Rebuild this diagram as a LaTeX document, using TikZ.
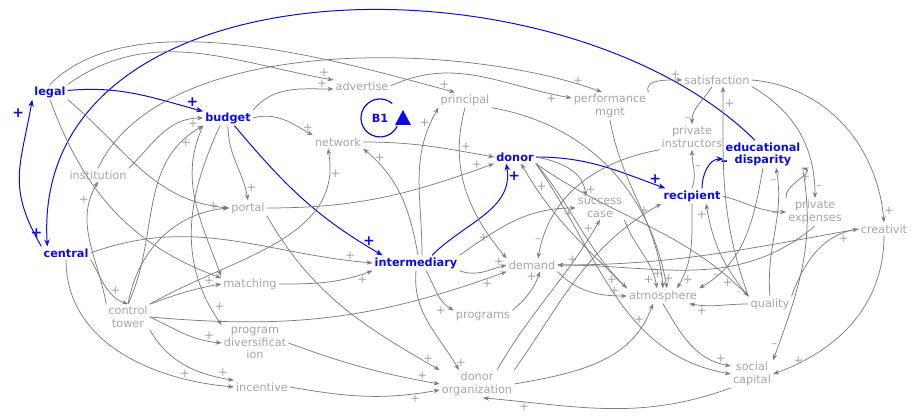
\documentclass[tikz,border=0pt]{standalone}
\usepackage{fontspec}
\setmainfont{DejaVu Sans}
\usetikzlibrary{arrows.meta}
\definecolor{lngray}{RGB}{125,125,125}
\definecolor{txgray}{RGB}{165,165,165}
\definecolor{cldblue}{RGB}{10,10,235}
\tikzset{
  var/.style={text=txgray, font=\fontsize{11.3}{12.5}\selectfont, align=center, inner sep=2pt},
  key/.style={text=cldblue, font=\bfseries\fontsize{11.3}{12}\selectfont, align=center, inner sep=2pt},
  lnk/.style={draw=lngray, line width=0.75pt, -{Stealth[length=6pt,width=4.5pt]}},
  blk/.style={draw=cldblue, line width=1pt, -{Stealth[length=7pt,width=5.5pt]}},
  pl/.style={text=txgray, font=\fontsize{12}{12}\selectfont, inner sep=1pt},
  bpl/.style={text=cldblue, font=\bfseries\fontsize{14}{14}\selectfont, inner sep=1pt},
}
\begin{document}
\begin{tikzpicture}[x=1pt,y=1pt]
    \useasboundingbox (0,0) rectangle (914,418);
    % variables
    \node[key] (legal) at (50,326) {legal};
    \node[key] (budget) at (228,300) {budget};
    \node[var] (advertise) at (362,332) {advertise};
    \node[var] (principal) at (465,318) {principal};
    \node[var] (perf) at (610,312) {performance\\mgnt};
    \node[var] (satisf) at (717,338) {satisfaction};
    \node[var] (privinst) at (692,281) {private\\instructors};
    \node[key] (edudisp) at (763,264) {educational\\disparity};
    \node[var] (network) at (338,276) {network};
    \node[key] (donor) at (515,261) {donor};
    \node[key] (recipient) at (692,222) {recipient};
    \node[var] (institution) at (98,243) {institution};
    \node[var] (portal) at (248,210) {portal};
    \node[var] (success) at (600,210) {success\\case};
    \node[var] (privexp) at (815,206) {private\\expenses};
    \node[var] (creativit) at (884,189) {creativit};
    \node[key] (central) at (66,165) {central};
    \node[key] (intermediary) at (416,155) {intermediary};
    \node[var] (demand) at (532,153) {demand};
    \node[var] (matching) at (250,134) {matching};
    \node[var] (atmosphere) at (663,122) {atmosphere};
    \node[var] (quality) at (770,114) {quality};
    \node[var] (ctower) at (128,101) {control\\tower};
    \node[var] (programs) at (483,101) {programs};
    \node[var] (progdiv) at (255,75) {program\\diversificat\\ion};
    \node[var] (incentive) at (262,31) {incentive};
    \node[var] (donorg) at (477,34) {donor\\organization};
    \node[var] (social) at (752,44) {social\\capital};
    % loop marker
    \node[key] (b1) at (380,300) {B1};
    \draw[cldblue, line width=1.2pt] (b1) ++(50:19) arc (50:335:19);
    \fill[cldblue] (b1) ++(15,-7) -- ++(16,0) -- ++(-8,15) -- cycle;
    % blue links
    \draw[blk] (legal) to[out=5,in=165] node[bpl,pos=.93,above]{+} (budget);
    \draw[blk] (central.north west) to[out=120,in=-100,looseness=1.2] node[bpl,pos=.93,left=4pt]{+} (legal.south west);
    \draw[blk] ([xshift=-8pt]edudisp.north) .. controls (560,470) and (30,462) .. node[bpl,pos=.985,left=3pt]{+} ([xshift=6pt]central.north west);
    \draw[blk] (budget) to[out=-50,in=150] node[bpl,pos=.93,above]{+} ([xshift=10pt]intermediary.north west);
    \draw[blk] ([xshift=16pt]intermediary.north) to[out=45,in=-80] node[bpl,pos=.9,right]{+} ([xshift=12pt]donor.south west);
    \draw[blk] (donor.east) to[out=0,in=160] node[bpl,pos=.93,above]{+} ([xshift=4pt]recipient.north west);
    \draw[blk] ([xshift=10pt]recipient.north) to[out=90,in=180] node[bpl,pos=.9,below right]{--} ([yshift=-5pt]edudisp.west);
    % top arcs
    \draw[lnk] (legal.north east) to[out=35,in=170] node[pl,pos=.97,above]{+} ([yshift=6pt]advertise.west);
    \draw[lnk] (budget.north east) to[out=50,in=180] node[pl,pos=.88,above]{+} ([yshift=-3pt]advertise.west);
    \draw[lnk] (legal.north) to[out=45,in=165,looseness=.75] node[pl,pos=.97,above]{+} ([xshift=-10pt]principal.north);
    \draw[lnk] (institution.north) to[out=65,in=160,looseness=.75] node[pl,pos=.96,above left]{+} ([xshift=-8pt]perf.north);
    \draw[lnk] (advertise.east) to[out=25,in=170] node[pl,pos=.9,below]{+} ([yshift=8pt]perf.west);
    \draw[lnk] (perf.north east) to[out=110,in=180] node[pl,pos=.85,above]{+} (satisf.west);
    % right side
    \draw[lnk] ([xshift=-5pt]satisf.south) to[out=-120,in=90] node[pl,pos=.9,left]{--} (privinst.north);
    \draw[lnk] (quality.north west) to[out=110,in=-90] node[pl,pos=.93,right]{+} ([xshift=6pt]satisf.south);
    \draw[lnk] (satisf.south east) to[out=-30,in=90] node[pl,pos=.93,right]{--} (privexp.north);
    \draw[lnk] (satisf.east) to[out=-5,in=95] node[pl,pos=.95,right]{+} (creativit.north);
    \draw[lnk] (recipient.north) to[out=70,in=-90] node[pl,pos=.55,right]{--} (privinst.south);
    \draw[lnk] (privinst.south west) to[out=190,in=80] node[pl,pos=.9,left]{--} ([xshift=6pt]demand.north);
    \draw[lnk] (privexp.north west) to[out=100,in=-20] node[pl,pos=.8,below]{+} (edudisp.south east);
    \draw[lnk] (recipient.east) to[out=-15,in=180] node[pl,pos=.85,below]{--} (privexp.west);
    \draw[lnk] (quality.north) to[out=95,in=-80] node[pl,pos=.9,left]{--} ([xshift=13pt]edudisp.south);
    \draw[lnk] (edudisp.south) to[out=-100,in=30] node[pl,pos=.9,above right]{--} (atmosphere.north east);
    \draw[lnk] (privexp.south) to[out=-140,in=0] node[pl,pos=.95,above]{+} (demand.east);
    \draw[lnk] (creativit.west) to[out=190,in=0] (demand.east);
    \draw[lnk] (quality.north east) to[out=70,in=190] node[pl,pos=.85,below]{+} (creativit.west);
    \draw[lnk] (creativit.south) to[out=-90,in=20] node[pl,pos=.9,above right]{+} (social.east);
    \draw[lnk] (edudisp.south east) to[out=-80,in=70] node[pl,pos=.93,left]{--} (social.north east);
    \draw[lnk] (atmosphere.south) to[out=-60,in=170] node[pl,pos=.9,above]{+} ([yshift=8pt]social.west);
    \draw[lnk] (quality.west) to[out=180,in=-10] node[pl,pos=.8,below]{+} ([xshift=-10pt]atmosphere.south east);
    \draw[lnk] (social.south west) to[out=-160,in=-5] node[pl,pos=.85,below]{+} ([xshift=6pt]donorg.south);
    \draw[lnk] (donor.south east) to[out=-55,in=170] (social.west);
    \draw[lnk] (donor.south east) to[out=-35,in=135] node[pl,pos=.93,left]{+} (quality.north west);
    % middle
    \draw[lnk] (network.east) to[out=0,in=170] node[pl,pos=.8,above]{+} (donor.west);
    \draw[lnk] (budget.east) to[out=15,in=150] node[pl,pos=.92,above]{+} (network.north west);
    \draw[lnk] (ctower.north east) to[out=30,in=-80] node[pl,pos=.9,right]{+} ([xshift=-10pt]network.south);
    \draw[lnk] ([xshift=2pt]intermediary.north) to[out=100,in=-40] node[pl,pos=.9,right]{+} (network.south east);
    \draw[lnk] ([xshift=6pt]intermediary.north) to[out=90,in=-120] node[pl,pos=.9,left]{+} (principal.south west);
    \draw[lnk] (principal.south) to[out=-105,in=130] node[pl,pos=.85,left]{+} (demand.north west);
    \draw[lnk] (principal.south east) to[out=-10,in=100] node[pl,pos=.95,left]{+} ([xshift=4pt]atmosphere.north);
    \draw[lnk] (perf.south) to[out=-80,in=95] node[pl,pos=.95,right]{+} (atmosphere.north);
    \draw[lnk] (donor.east) to[out=-10,in=95] node[pl,pos=.9,right]{+} ([xshift=10pt]success.north west);
    \draw[lnk] (donor.south east) to[out=-50,in=135] node[pl,pos=.93,left]{+} (atmosphere.north west);
    \draw[lnk] (atmosphere.north west) to[out=135,in=-60] node[pl,pos=.85,right]{+} ([xshift=6pt]donor.south);
    \draw[lnk] (intermediary.north east) to[out=35,in=180] node[pl,pos=.95,below]{+} (success.west);
    \draw[lnk] (intermediary.south east) to[out=-20,in=195] node[pl,pos=.85,above]{+} (demand.west);
    \draw[lnk] (portal.east) to[out=0,in=200] node[pl,pos=.93,above]{+} (donor.south west);
    \draw[lnk] (ctower.east) to[out=-5,in=-160] node[pl,pos=.95,below]{+} (demand.south west);
    \draw[lnk] (programs.north east) to[out=40,in=-110] node[pl,pos=.9,left]{+} ([xshift=8pt]demand.south);
    \draw[lnk] ([xshift=10pt]intermediary.south) to[out=-60,in=150] node[pl,pos=.85,below left]{+} (programs.north west);
    \draw[lnk] (intermediary.south) to[out=-95,in=120] node[pl,pos=.93,right]{+} ([xshift=-18pt]donorg.north);
    \draw[lnk] ([xshift=20pt]donorg.north) to[out=60,in=-120] node[pl,pos=.95,left]{+} (success.south);
    \draw[lnk] (donorg.north east) to[out=55,in=-150] node[pl,pos=.95,left]{+} (recipient.south west);
    \draw[lnk] (donorg.east) to[out=10,in=-110] node[pl,pos=.9,left]{+} ([xshift=-10pt]atmosphere.south);
    \draw[lnk] (success.south east) to[out=-70,in=100] node[pl,pos=.9,left]{+} ([xshift=-6pt]atmosphere.north);
    \draw[lnk] (recipient.south) to[out=-90,in=60] node[pl,pos=.9,right]{+} ([xshift=14pt]atmosphere.north);
    \draw[lnk] (quality.north west) to[out=130,in=-80] node[pl,pos=.9,left]{+} ([xshift=14pt]recipient.south);
    \draw[lnk] (demand.south east) to[out=-45,in=180] node[pl,pos=.85,above]{+} (atmosphere.west);
    % left side
    \draw[lnk] (budget.south) to[out=-90,in=100] node[pl,pos=.85,right]{+} (portal.north);
    \draw[lnk] (budget.south west) to[out=-115,in=110] (matching.north west);
    \draw[lnk] ([xshift=-8pt]budget.south) to[out=-115,in=125] node[pl,pos=.93,above right]{+} (progdiv.north west);
    \draw[lnk] (institution.north east) to[out=45,in=180] node[pl,pos=.9,below]{+} (budget.west);
    \draw[lnk] (ctower.north) to[out=65,in=-150] node[pl,pos=.9,below]{+} (budget.south west);
    \draw[lnk] (ctower.north west) to[out=100,in=-120] node[pl,pos=.85,left]{+} (institution.south);
    \draw[lnk] (legal.south east) to[out=-40,in=175] (portal.west);
    \draw[lnk] (legal.south) to[out=-70,in=160] ([yshift=6pt]matching.west);
    \draw[lnk] (central.east) to[out=20,in=175] node[pl,pos=.93,above]{+} (intermediary.west);
    \draw[lnk] (central.south east) to[out=-60,in=160] node[pl,pos=.6,right]{+} (ctower.north);
    \draw[lnk] (central.south) to[out=-90,in=175] node[pl,pos=.8,above]{+} (incentive.west);
    \draw[lnk] (ctower.south east) to[out=-60,in=170] node[pl,pos=.9,above]{+} (incentive.north west);
    \draw[lnk] (ctower.east) to[out=-25,in=175] node[pl,pos=.85,above]{+} (progdiv.west);
    \draw[lnk] (ctower.north east) to[out=20,in=190] node[pl,pos=.85,above]{+} (matching.west);
    \draw[lnk] (ctower.north) to[out=80,in=185] node[pl,pos=.9,above]{+} (portal.west);
    \draw[lnk] (matching.east) to[out=0,in=-160] node[pl,pos=.9,below]{+} (intermediary.south west);
    \draw[lnk] (progdiv.east) to[out=-20,in=170] node[pl,pos=.9,above]{+} (donorg.west);
    \draw[lnk] (incentive.east) to[out=-10,in=190] node[pl,pos=.85,below]{+} ([yshift=-6pt]donorg.west);
    \draw[lnk] (portal.south east) to[out=-60,in=150] node[pl,pos=.95,above]{+} (donorg.north west);
\end{tikzpicture}
\end{document}
